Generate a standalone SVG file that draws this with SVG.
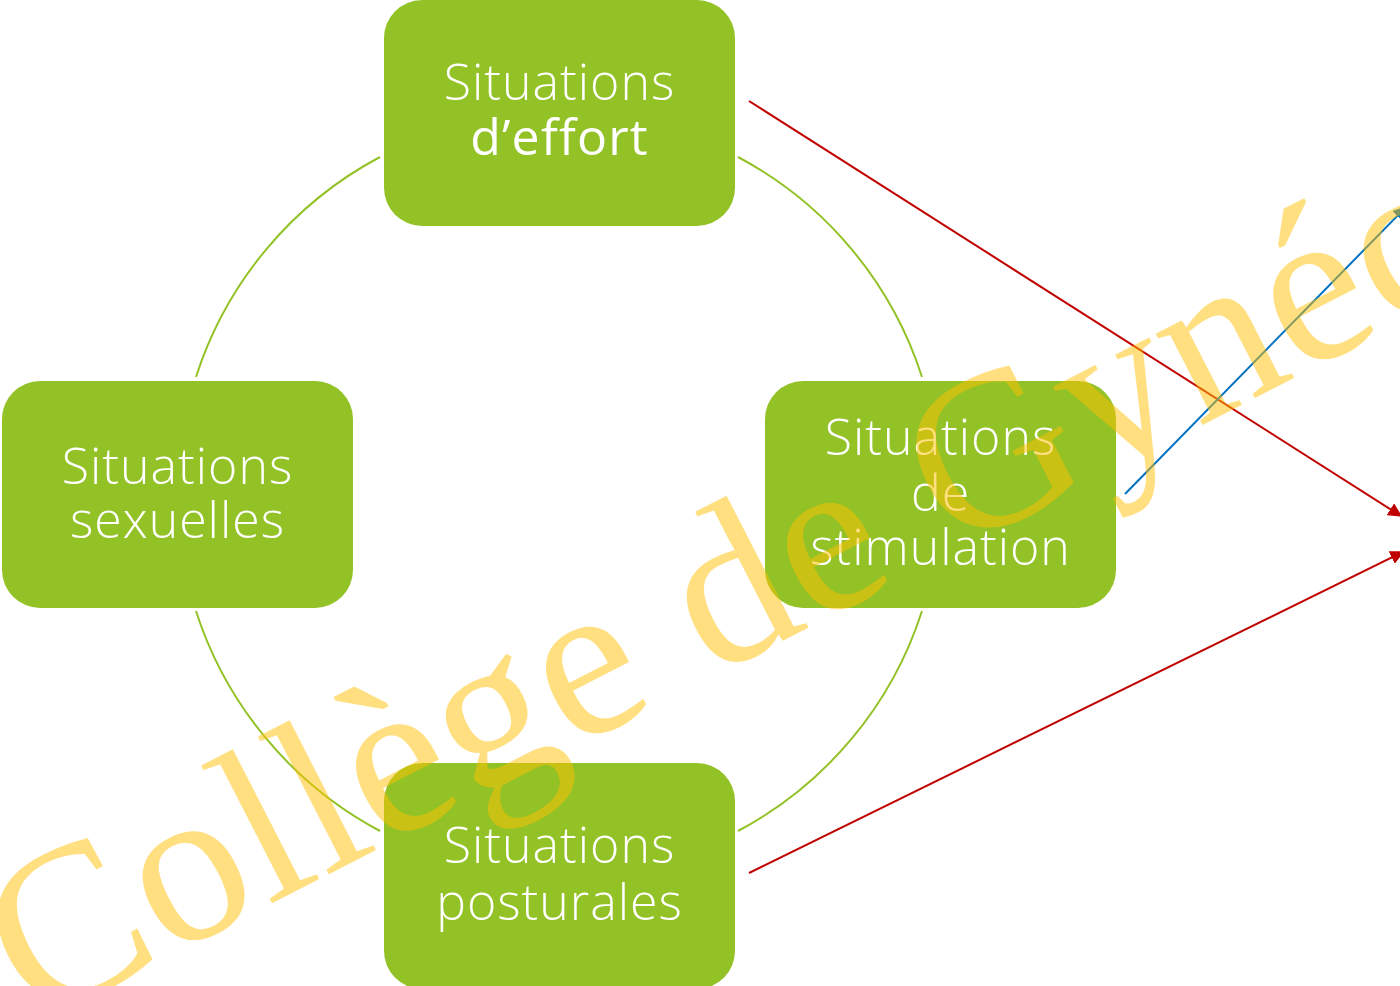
<svg xmlns="http://www.w3.org/2000/svg" width="1400" height="986" viewBox="0 0 1400 986">
<style>
.node{fill:#93C227}
.lbl{font-family:"Open Sans","Lato",sans-serif;font-weight:300;font-size:50px;fill:#fff;text-anchor:middle;letter-spacing:1px}
.bold{font-weight:500;letter-spacing:1.2px}
.arc{fill:none;stroke:#93C227;stroke-width:2}
.red{stroke:#C00000;stroke-width:2;fill:none;marker-end:url(#ahRed)}
.blue{stroke:#0070C0;stroke-width:2;fill:none;marker-end:url(#ahBlue)}
.wm{font-family:"Liberation Serif","Times New Roman",serif;font-size:223px;fill:#FFC000;fill-opacity:0.5;letter-spacing:1.6px}
</style>
<defs>
<marker id="ahRed" viewBox="0 0 10 10" refX="9" refY="5" markerWidth="7" markerHeight="7" orient="auto" markerUnits="strokeWidth">
<path d="M0,0 L10,5 L0,10 Z" fill="#C00000"/>
</marker>
<marker id="ahBlue" viewBox="0 0 10 10" refX="9" refY="5" markerWidth="7" markerHeight="7" orient="auto" markerUnits="strokeWidth">
<path d="M0,0 L10,5 L0,10 Z" fill="#0070C0"/>
</marker>
</defs>
<rect width="1400" height="986" fill="#fff"/>
<g id="connectors">
<path class="arc" d="M380,157 A381,381 0 0 0 196,377"/>
<path class="arc" d="M738,157 A381,381 0 0 1 922,377"/>
<path class="arc" d="M922,611 A381,381 0 0 1 738,831"/>
<path class="arc" d="M380,831 A381,381 0 0 1 196,611"/>
<path class="red" d="M749,101 L1401,516"/>
<path class="red" d="M749,873 L1403,552"/>
<path class="blue" d="M1125,494 L1406,207"/>
</g>
<g id="node-effort">
<rect class="node" x="384" y="0" width="351" height="226" rx="38"/>
<text class="lbl" x="559.5" y="100">Situations</text>
<text class="lbl bold" x="559.5" y="155">d’effort</text>
</g>
<g id="node-sexuelles">
<rect class="node" x="2" y="381" width="351" height="227" rx="38"/>
<text class="lbl" x="177.5" y="484">Situations</text>
<text class="lbl" x="177.5" y="538">sexuelles</text>
</g>
<g id="node-stimulation">
<rect class="node" x="765" y="381" width="351" height="227" rx="38"/>
<text class="lbl" x="940.5" y="455">Situations</text>
<text class="lbl" x="940.5" y="511">de</text>
<text class="lbl" x="940.5" y="565">stimulation</text>
</g>
<g id="node-posturales">
<rect class="node" x="384" y="763" width="351" height="226" rx="38"/>
<text class="lbl" x="559.5" y="863">Situations</text>
<text class="lbl" x="559.5" y="920">posturales</text>
</g>
<g id="watermark">
<text class="wm" transform="translate(33.8,1025.6) rotate(-27.2)">Collège de Gynéc</text>
</g>
</svg>
